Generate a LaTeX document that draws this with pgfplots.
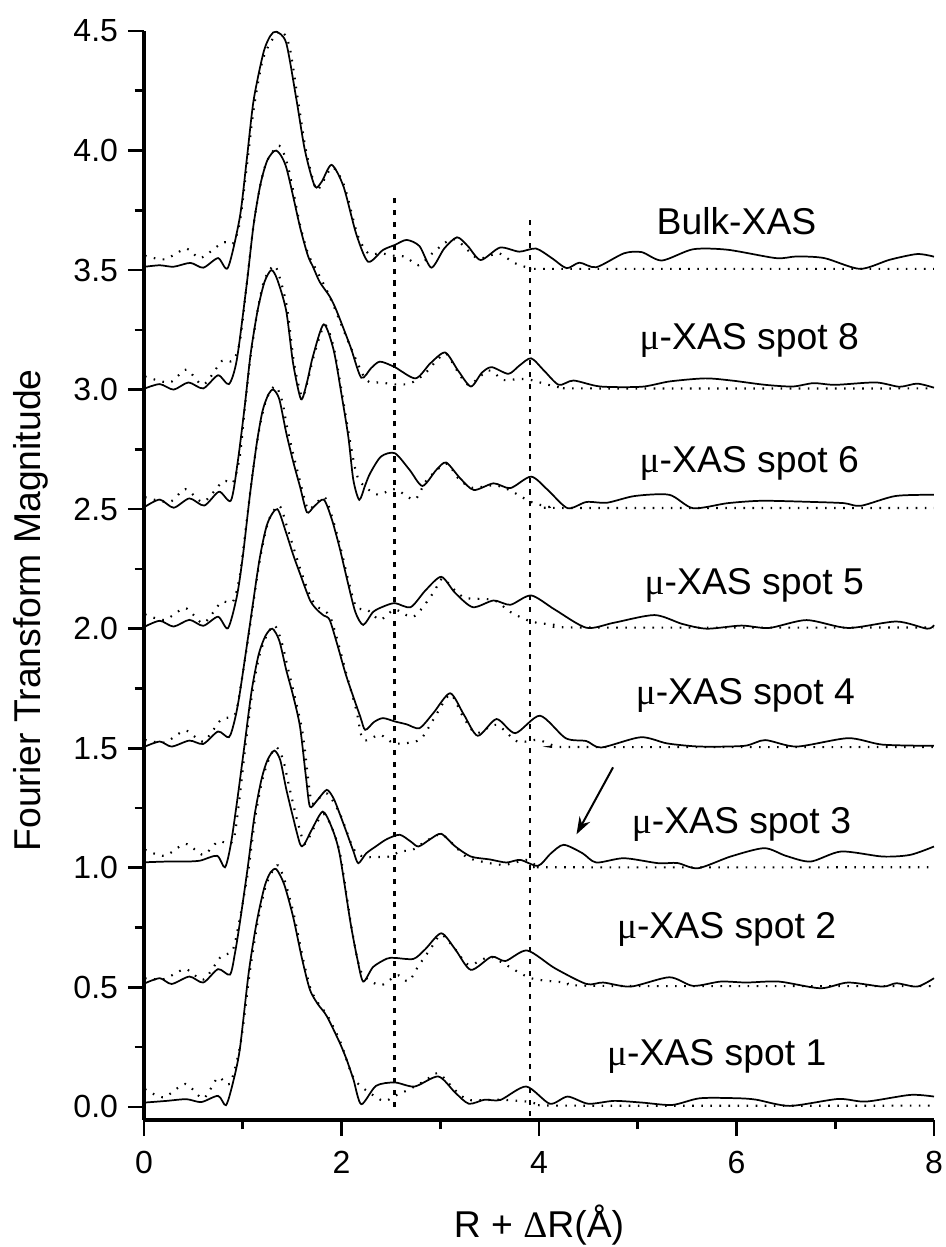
\documentclass[border=0pt]{standalone}
\usepackage{fontspec}
\setmainfont{Liberation Sans}
\newfontfamily\symfont{Liberation Serif}
\usepackage{pgfplots}
\pgfplotsset{compat=1.18}
\usetikzlibrary{arrows.meta}

\newcommand{\muX}{{\symfont μ}}
\pgfplotsset{
  meas/.style={black, line width=1.3pt, smooth, tension=0.45, mark=none},
  fit/.style={black, line width=1.6pt, dash pattern=on 1.2pt off 5.6pt, smooth, tension=0.45, mark=none},
}
\tikzset{lbl/.style={anchor=base, font=\fontsize{28}{30}\selectfont}}

\begin{document}
\begin{tikzpicture}
\begin{axis}[
  at={(0,0)}, anchor=south west,
  scale only axis, width=592.5pt, height=816.75pt,
  xmin=0, xmax=8, ymin=-0.055, ymax=4.5,
  clip=false,
  axis x line*=bottom, axis y line*=left,
  every outer x axis line/.append style={line width=2.5pt},
  every outer y axis line/.append style={line width=2.5pt},
  tick align=outside,
  major tick length=12pt, minor tick length=7pt,
  every tick/.append style={line width=2pt, black},
  every major tick/.append style={line width=2pt, black},
  every minor tick/.append style={line width=2pt, black},
  xtick style={line width=2pt, black},
  ytick style={line width=2pt, black},
  xtick={0,2,4,6,8}, minor xtick={1,3,5,7},
  ytick={0,0.5,1,1.5,2,2.5,3,3.5,4,4.5},
  minor ytick={0.25,0.75,1.25,1.75,2.25,2.75,3.25,3.75,4.25},
  yticklabel style={/pgf/number format/.cd, fixed, fixed zerofill, precision=1},
  /pgf/number format/assume math mode=true,
  ticklabel style={font=\fontsize{24}{26}\selectfont},
  xticklabel shift=8pt,
  yticklabel shift=4pt,
  label style={font=\fontsize{28}{30}\selectfont},
  xlabel={R + {\symfont Δ}R(Å)},
  ylabel={Fourier Transform Magnitude},
  xlabel style={at={(axis description cs:0.5,-0.0964)}, anchor=center},
  ylabel style={at={(axis description cs:-0.143,0.468)}, anchor=center},
]

% Bulk-XAS
\addplot[meas] coordinates {
(0.01,3.514)(0.16,3.52)(0.30,3.514)(0.47,3.53)(0.60,3.51)(0.75,3.55)(0.85,3.51)
(0.97,3.72)(1.04,3.96)(1.11,4.21)(1.21,4.41)(1.28,4.48)(1.34,4.497)(1.44,4.45)
(1.545,4.21)(1.63,4.0)(1.73,3.85)(1.80,3.87)(1.90,3.94)(2.02,3.85)(2.15,3.65)
(2.27,3.535)(2.42,3.584)(2.54,3.605)(2.66,3.626)(2.79,3.60)(2.91,3.51)(3.04,3.59)
(3.17,3.637)(3.28,3.60)(3.41,3.542)(3.605,3.594)(3.80,3.577)(3.97,3.59)(4.13,3.55)
(4.28,3.508)(4.41,3.531)(4.58,3.512)(4.86,3.57)(5.04,3.575)(5.245,3.54)(5.56,3.587)
(5.91,3.585)(6.40,3.55)(6.61,3.557)(6.89,3.55)(7.25,3.505)(7.55,3.543)(7.83,3.567)(8.0,3.556)};
\addplot[fit] coordinates {
(0.01,3.56)(0.21,3.545)(0.43,3.59)(0.57,3.55)(0.80,3.616)(0.90,3.61)(0.97,3.70)
(1.04,3.93)(1.11,4.17)(1.21,4.39)(1.37,4.50)(1.47,4.44)(1.56,4.21)(1.64,4.0)(1.74,3.84)
(1.80,3.86)(1.91,3.93)(2.03,3.85)(2.16,3.65)(2.27,3.57)(2.40,3.57)(2.53,3.56)(2.65,3.555)
(2.78,3.52)(2.92,3.57)(3.07,3.62)(3.17,3.625)(3.37,3.55)(3.50,3.56)(3.60,3.57)(3.75,3.53)
(3.92,3.508)(4.2,3.505)(8.0,3.505)};

% spot 8
\addplot[meas] coordinates {
(0.01,3.005)(0.16,3.023)(0.30,3.0)(0.45,3.03)(0.60,3.005)(0.75,3.06)(0.86,3.023)
(0.94,3.125)(1.04,3.44)(1.11,3.69)(1.18,3.86)(1.25,3.96)(1.34,4.0)(1.44,3.93)(1.58,3.68)
(1.66,3.56)(1.71,3.515)(1.78,3.45)(1.88,3.39)(1.95,3.33)(2.09,3.18)(2.20,3.05)(2.30,3.09)
(2.39,3.117)(2.54,3.094)(2.75,3.047)(2.90,3.11)(3.05,3.155)(3.18,3.08)(3.31,3.013)
(3.42,3.07)(3.52,3.094)(3.69,3.066)(3.80,3.10)(3.92,3.131)(4.05,3.08)(4.20,3.02)
(4.35,3.038)(4.62,3.013)(5.04,3.012)(5.32,3.034)(5.68,3.047)(5.95,3.038)(6.29,3.02)
(6.57,3.013)(6.78,3.027)(7.0,3.02)(7.41,3.03)(7.65,3.012)(7.83,3.025)(8.0,3.008)};
\addplot[fit] coordinates {
(0.01,3.055)(0.26,3.03)(0.43,3.084)(0.60,3.02)(0.79,3.12)(0.90,3.12)(0.97,3.2)
(1.04,3.44)(1.11,3.69)(1.18,3.86)(1.25,3.96)(1.37,4.02)(1.46,3.93)(1.58,3.69)(1.66,3.57)
(1.72,3.52)(1.88,3.39)(2.09,3.18)(2.25,3.04)(2.40,3.03)(2.54,3.022)(2.69,3.025)(2.84,3.065)
(2.96,3.12)(3.06,3.15)(3.17,3.08)(3.29,3.02)(3.49,3.08)(3.64,3.04)(3.80,3.045)(3.92,3.04)
(4.2,3.01)(4.5,3.005)(8.0,3.005)};

% spot 6
\addplot[meas] coordinates {
(0.01,2.51)(0.16,2.54)(0.30,2.506)(0.46,2.545)(0.61,2.515)(0.76,2.573)(0.88,2.536)
(0.95,2.7)(1.02,2.93)(1.08,3.15)(1.15,3.33)(1.22,3.45)(1.29,3.50)(1.35,3.46)(1.44,3.33)
(1.51,3.11)(1.59,2.96)(1.65,3.03)(1.71,3.138)(1.82,3.273)(1.92,3.166)(2.0,2.98)(2.07,2.80)
(2.12,2.622)(2.18,2.539)(2.24,2.60)(2.29,2.65)(2.40,2.72)(2.54,2.734)(2.69,2.664)(2.82,2.597)
(2.96,2.664)(3.06,2.695)(3.20,2.63)(3.34,2.58)(3.54,2.608)(3.71,2.588)(3.92,2.636)(4.09,2.58)
(4.29,2.504)(4.48,2.53)(4.69,2.527)(4.97,2.555)(5.32,2.56)(5.56,2.504)(5.91,2.525)(6.26,2.535)
(6.78,2.53)(7.09,2.525)(7.26,2.514)(7.61,2.555)(8.0,2.56)};
\addplot[fit] coordinates {
(0.01,2.55)(0.26,2.53)(0.42,2.584)(0.60,2.53)(0.80,2.617)(0.90,2.61)(0.97,2.72)
(1.02,2.92)(1.08,3.14)(1.15,3.33)(1.22,3.46)(1.32,3.52)(1.38,3.46)(1.45,3.34)(1.52,3.11)
(1.60,2.97)(1.66,3.04)(1.72,3.14)(1.83,3.27)(1.93,3.16)(2.08,2.80)(2.15,2.65)(2.22,2.60)
(2.37,2.56)(2.54,2.584)(2.74,2.54)(2.86,2.62)(3.06,2.69)(3.18,2.63)(3.32,2.59)(3.55,2.60)
(3.70,2.58)(3.92,2.53)(4.1,2.51)(4.3,2.505)(8.0,2.505)};

% spot 5
\addplot[meas] coordinates {
(0.01,2.009)(0.16,2.033)(0.30,2.009)(0.46,2.037)(0.60,2.012)(0.75,2.05)(0.85,2.002)
(0.94,2.134)(1.00,2.3)(1.07,2.55)(1.14,2.77)(1.20,2.91)(1.26,2.98)(1.31,3.0)(1.37,2.96)
(1.44,2.82)(1.51,2.70)(1.58,2.594)(1.65,2.487)(1.72,2.51)(1.82,2.54)(1.90,2.46)(1.98,2.34)
(2.06,2.2)(2.14,2.07)(2.22,2.016)(2.32,2.07)(2.42,2.092)(2.54,2.107)(2.70,2.09)(2.85,2.16)
(3.01,2.217)(3.15,2.15)(3.33,2.09)(3.54,2.118)(3.71,2.10)(3.92,2.139)(4.16,2.08)(4.48,2.004)
(4.76,2.025)(5.17,2.057)(5.45,2.02)(5.70,2.0)(6.05,2.013)(6.33,2.003)(6.71,2.036)(7.13,2.003)
(7.62,2.03)(7.93,2.0)(8.0,2.015)};
\addplot[fit] coordinates {
(0.01,2.06)(0.21,2.037)(0.42,2.086)(0.60,2.023)(0.78,2.11)(0.90,2.113)(0.97,2.22)
(1.04,2.45)(1.10,2.65)(1.17,2.84)(1.24,2.96)(1.33,3.015)(1.40,2.95)(1.46,2.82)(1.59,2.60)
(1.66,2.50)(1.73,2.52)(1.83,2.55)(1.91,2.46)(1.99,2.34)(2.07,2.2)(2.15,2.09)(2.26,2.08)
(2.39,2.037)(2.54,2.08)(2.73,2.05)(2.93,2.15)(3.02,2.21)(3.15,2.16)(3.26,2.128)(3.54,2.12)
(3.71,2.07)(3.92,2.03)(4.16,2.016)(4.4,2.005)(8.0,2.005)};

% spot 4
\addplot[meas] coordinates {
(0.01,1.507)(0.16,1.528)(0.28,1.507)(0.46,1.532)(0.60,1.518)(0.75,1.57)(0.86,1.546)
(0.92,1.62)(0.97,1.73)(1.07,2.01)(1.17,2.29)(1.25,2.44)(1.35,2.50)(1.44,2.40)(1.51,2.31)
(1.58,2.23)(1.68,2.12)(1.75,2.08)(1.82,2.055)(1.88,2.037)(1.96,1.93)(2.05,1.80)(2.19,1.632)
(2.24,1.577)(2.33,1.61)(2.42,1.626)(2.54,1.612)(2.66,1.60)(2.79,1.584)(2.93,1.647)(3.10,1.73)
(3.24,1.64)(3.38,1.552)(3.57,1.622)(3.76,1.563)(4.01,1.636)(4.27,1.542)(4.48,1.53)(4.63,1.503)
(5.03,1.546)(5.30,1.52)(5.63,1.507)(6.08,1.51)(6.29,1.534)(6.61,1.507)(7.13,1.542)(7.48,1.515)
(8.0,1.51)};
\addplot[fit] coordinates {
(0.01,1.535)(0.21,1.524)(0.42,1.574)(0.60,1.528)(0.78,1.619)(0.92,1.64)(0.98,1.76)
(1.07,2.0)(1.17,2.28)(1.26,2.45)(1.37,2.515)(1.46,2.41)(1.59,2.24)(1.69,2.13)(1.76,2.09)
(1.89,2.045)(2.05,1.81)(2.15,1.66)(2.22,1.535)(2.39,1.556)(2.54,1.52)(2.79,1.535)(2.93,1.62)
(3.10,1.725)(3.22,1.64)(3.36,1.563)(3.57,1.598)(3.78,1.528)(3.99,1.535)(4.16,1.51)(4.4,1.505)
(8.0,1.505)};

% spot 3
\addplot[meas] coordinates {
(0.01,1.023)(0.23,1.026)(0.43,1.026)(0.57,1.03)(0.74,1.05)(0.82,1.002)(0.88,1.10)
(0.95,1.3)(1.02,1.52)(1.09,1.74)(1.16,1.89)(1.23,1.97)(1.30,2.0)(1.37,1.95)(1.44,1.828)
(1.51,1.72)(1.58,1.59)(1.64,1.38)(1.68,1.256)(1.75,1.28)(1.85,1.326)(1.92,1.29)(1.98,1.228)
(2.05,1.15)(2.12,1.07)(2.17,1.019)(2.25,1.06)(2.35,1.09)(2.46,1.12)(2.59,1.138)(2.70,1.11)
(2.78,1.089)(2.90,1.12)(3.01,1.142)(3.15,1.09)(3.31,1.047)(3.50,1.035)(3.67,1.022)(3.81,1.033)
(3.99,1.008)(4.12,1.06)(4.25,1.096)(4.44,1.061)(4.58,1.022)(4.86,1.04)(5.21,1.019)(5.40,1.02)
(5.61,0.998)(5.94,1.047)(6.28,1.082)(6.50,1.05)(6.75,1.026)(7.06,1.068)(7.48,1.047)(7.76,1.054)
(8.0,1.089)};
\addplot[fit] coordinates {
(0.01,1.075)(0.21,1.05)(0.42,1.10)(0.60,1.054)(0.75,1.11)(0.90,1.11)(0.97,1.3)
(1.03,1.52)(1.10,1.74)(1.17,1.89)(1.24,1.97)(1.32,2.015)(1.39,1.95)(1.46,1.83)(1.60,1.58)
(1.66,1.38)(1.70,1.27)(1.77,1.29)(1.86,1.31)(1.99,1.22)(2.12,1.08)(2.22,1.046)(2.32,1.045)
(2.49,1.047)(2.59,1.068)(2.72,1.075)(2.85,1.11)(3.01,1.14)(3.15,1.09)(3.29,1.04)(3.63,1.012)
(3.88,1.033)(3.99,1.005)(4.2,1.002)(8.0,1.002)};

% spot 2
\addplot[meas] coordinates {
(0.01,0.517)(0.16,0.538)(0.28,0.514)(0.46,0.545)(0.60,0.52)(0.75,0.576)(0.87,0.553)
(0.92,0.64)(0.97,0.768)(1.05,1.0)(1.12,1.22)(1.19,1.37)(1.25,1.45)(1.32,1.49)(1.38,1.45)
(1.44,1.33)(1.51,1.21)(1.58,1.10)(1.62,1.096)(1.70,1.16)(1.81,1.235)(1.90,1.17)(1.98,1.06)
(2.09,0.773)(2.16,0.62)(2.22,0.524)(2.32,0.585)(2.46,0.62)(2.54,0.623)(2.73,0.619)(2.85,0.66)
(3.01,0.726)(3.15,0.66)(3.31,0.573)(3.52,0.628)(3.66,0.61)(3.88,0.654)(4.16,0.58)(4.48,0.514)
(4.65,0.52)(4.93,0.503)(5.32,0.542)(5.56,0.506)(5.84,0.524)(6.10,0.52)(6.43,0.524)(6.85,0.496)
(7.13,0.52)(7.48,0.503)(7.62,0.517)(7.83,0.503)(8.0,0.538)};
\addplot[fit] coordinates {
(0.01,0.538)(0.20,0.534)(0.42,0.576)(0.60,0.532)(0.78,0.629)(0.90,0.657)(0.99,0.83)
(1.06,1.0)(1.13,1.22)(1.20,1.37)(1.27,1.46)(1.34,1.505)(1.41,1.45)(1.47,1.34)(1.55,1.20)
(1.63,1.10)(1.71,1.16)(1.82,1.225)(1.91,1.16)(1.99,1.05)(2.09,0.78)(2.16,0.62)(2.22,0.55)
(2.39,0.508)(2.52,0.54)(2.58,0.55)(2.68,0.525)(2.78,0.59)(2.90,0.66)(3.01,0.72)(3.15,0.66)
(3.29,0.594)(3.50,0.628)(3.64,0.60)(3.92,0.538)(4.27,0.52)(4.6,0.506)(8.0,0.505)};

% spot 1
\addplot[meas] coordinates {
(0.01,0.018)(0.23,0.025)(0.43,0.032)(0.58,0.02)(0.75,0.046)(0.83,0.007)(0.90,0.10)
(0.97,0.24)(1.06,0.56)(1.14,0.77)(1.22,0.92)(1.28,0.98)(1.34,0.994)(1.42,0.93)(1.51,0.795)
(1.60,0.62)(1.68,0.49)(1.76,0.43)(1.85,0.38)(1.98,0.27)(2.05,0.20)(2.12,0.116)(2.20,0.011)
(2.35,0.088)(2.54,0.102)(2.74,0.085)(2.98,0.127)(3.15,0.06)(3.29,0.013)(3.45,0.03)(3.61,0.029)
(3.87,0.085)(4.11,0.013)(4.29,0.043)(4.50,0.013)(4.76,0.025)(5.04,0.018)(5.35,0.008)(5.63,0.036)
(6.01,0.036)(6.20,0.03)(6.54,0.004)(7.03,0.033)(7.31,0.022)(7.76,0.05)(8.0,0.043)};
\addplot[fit] coordinates {
(0.01,0.074)(0.20,0.04)(0.42,0.096)(0.60,0.035)(0.75,0.123)(0.87,0.096)(0.98,0.27)
(1.07,0.56)(1.15,0.77)(1.23,0.92)(1.30,0.985)(1.36,1.01)(1.43,0.94)(1.52,0.80)(1.61,0.62)
(1.69,0.49)(1.77,0.43)(1.86,0.38)(1.99,0.27)(2.10,0.14)(2.19,0.088)(2.42,0.025)(2.54,0.046)
(2.69,0.074)(2.85,0.11)(2.98,0.141)(3.15,0.07)(3.29,0.029)(3.60,0.03)(3.88,0.022)(3.99,0.012)
(4.3,0.005)(8.0,0.005)};

% reference lines
\addplot[black, line width=2pt, dash pattern=on 3.8pt off 5pt] coordinates {(2.54,0) (2.54,3.81)};
\addplot[black, line width=2pt, dash pattern=on 3.8pt off 5pt] coordinates {(3.91,-0.04) (3.91,3.72)};

\draw[-{Stealth[length=13pt,width=9pt]}, line width=1.5pt] (axis cs:4.75,1.42) -- (axis cs:4.38,1.14);

\node[lbl] at (axis cs:6.00,3.647) {Bulk-XAS};
\node[lbl] at (axis cs:6.13,3.166) {\muX-XAS spot 8};
\node[lbl] at (axis cs:6.13,2.653) {\muX-XAS spot 6};
\node[lbl] at (axis cs:6.18,2.141) {\muX-XAS spot 5};
\node[lbl] at (axis cs:6.09,1.681) {\muX-XAS spot 4};
\node[lbl] at (axis cs:6.05,1.145) {\muX-XAS spot 3};
\node[lbl] at (axis cs:5.90,0.705) {\muX-XAS spot 2};
\node[lbl] at (axis cs:5.80,0.175) {\muX-XAS spot 1};
\end{axis}
\pgfresetboundingbox
\useasboundingbox (-108pt,-95.25pt) rectangle (601.5pt,840pt);
\end{tikzpicture}
\end{document}
